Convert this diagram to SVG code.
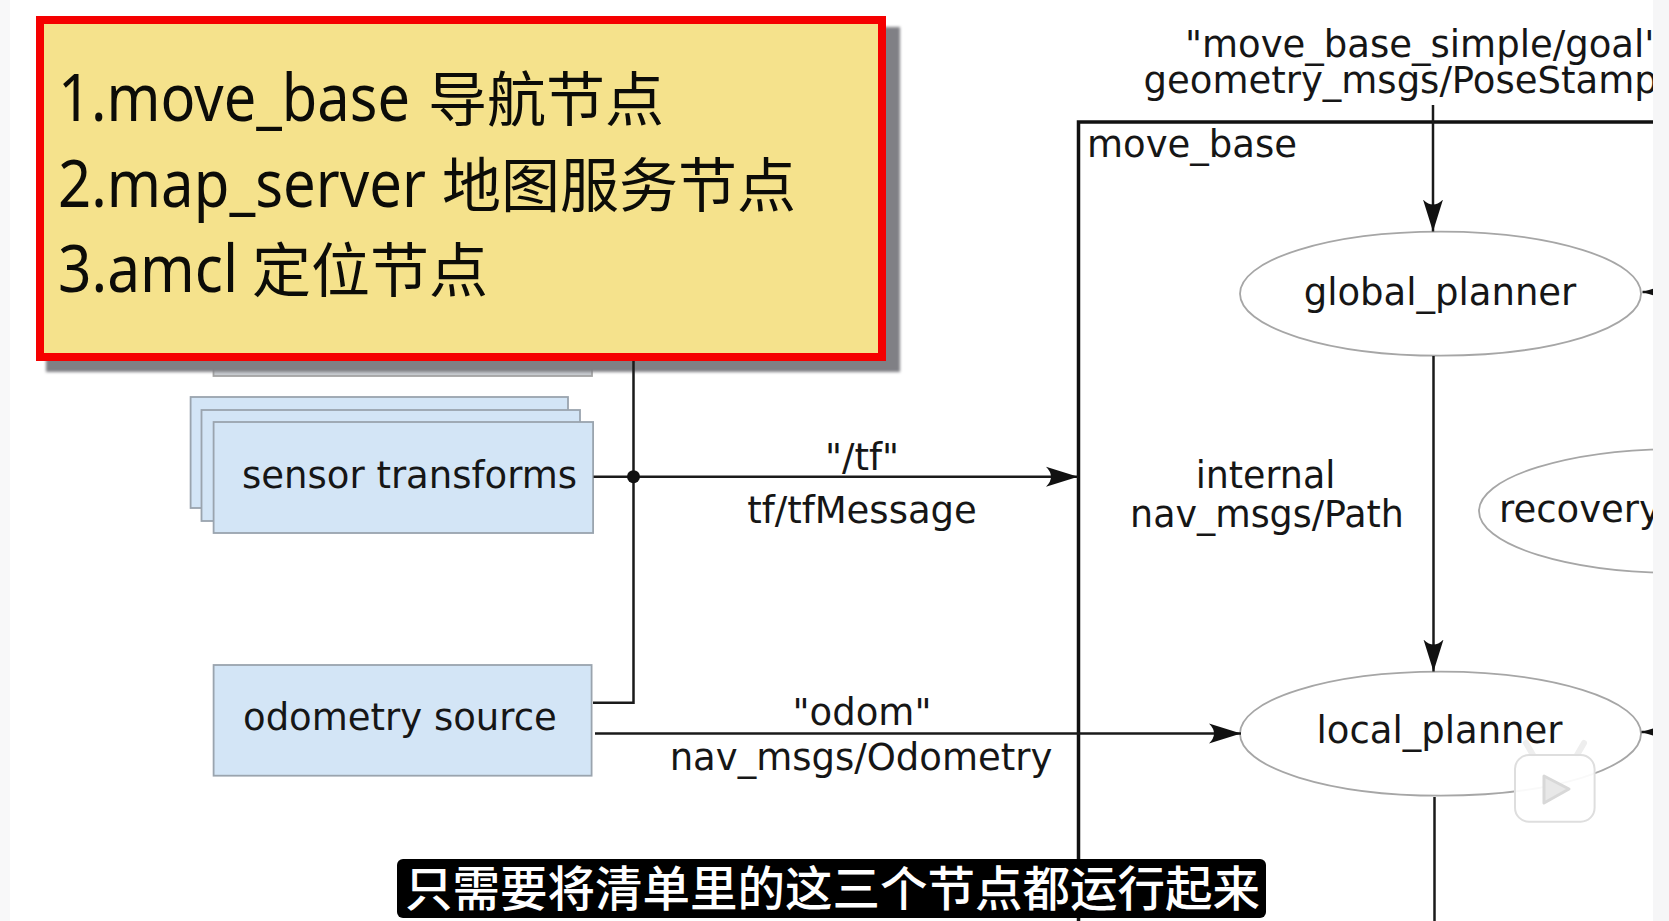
<svg xmlns="http://www.w3.org/2000/svg" width="1669" height="921" viewBox="0 0 1669 921">
<style>
text{font-family:"DejaVu Sans",sans-serif;font-size:37px;fill:#161616}
.m{text-anchor:middle}
.box{fill:#d3e5f6;stroke:#9aa4ae;stroke-width:1.8}
.ell{fill:#fff;stroke:#a6a6a6;stroke-width:1.8}
.ln{fill:none;stroke:#1a1a1a;stroke-width:2.5}
.lat{font-family:"Noto Sans",sans-serif;font-size:66px;fill:#0c0c08}
.cjk{font-family:"Noto Sans CJK SC",sans-serif;font-size:59px;fill:#0c0c08}
.cap{font-family:"Noto Sans CJK SC",sans-serif;font-size:47.5px;font-weight:500;fill:#fff}
</style>
<defs>
<marker id="arr" markerUnits="userSpaceOnUse" markerWidth="34" markerHeight="24" refX="32" refY="12" orient="auto">
<path d="M0 2 L32 12 L0 22 Q10 12 0 2Z" fill="#111"/>
</marker>
<filter id="sh" x="-5%" y="-5%" width="110%" height="110%"><feGaussianBlur stdDeviation="1.5"/></filter>
</defs>
<rect width="1669" height="921" fill="#fff"/>

<g id="move_base">
<rect x="1078.5" y="122" width="640" height="860" fill="none" stroke="#111" stroke-width="3.5"/>
<text x="1087" y="157">move_base</text>
</g>
<g id="global_planner">
<ellipse class="ell" cx="1440.5" cy="293.7" rx="200.5" ry="62"/>
<text x="1440" y="305" class="m">global_planner</text>
</g>
<g id="recovery">
<ellipse class="ell" cx="1680" cy="511" rx="201" ry="62"/>
<text x="1499" y="522">recovery</text>
</g>
<g id="local_planner">
<ellipse class="ell" cx="1440.5" cy="733.7" rx="200.5" ry="62"/>
<text x="1439.5" y="742.5" class="m">local_planner</text>
</g>
<g id="hidden_box">
<rect x="213.5" y="300" width="378.5" height="76" fill="#c9cdd1" stroke="#a3a3a3" stroke-width="1.8"/>
<rect x="46" y="27" width="854" height="345" fill="#808085" filter="url(#sh)"/>
</g>
<g id="sensor_transforms">
<rect class="box" x="190.6" y="397" width="377.4" height="111"/>
<rect class="box" x="201.5" y="410" width="378.5" height="111"/>
<rect class="box" x="213.6" y="422" width="379.5" height="111"/>
<text x="242" y="488">sensor transforms</text>
</g>
<g id="odometry_source">
<rect class="box" x="213.6" y="665" width="378" height="110.7"/>
<text x="243" y="730">odometry source</text>
</g>

<g id="connectors">
<path class="ln" d="M593 702.7H633.5V340"/>
<path class="ln" d="M593.6 476.7H1078" marker-end="url(#arr)"/>
<circle cx="633.5" cy="476.7" r="6.5" fill="#111"/>
<path class="ln" d="M595 733.5H1241" marker-end="url(#arr)"/>
<path class="ln" d="M1433 105V231.5" marker-end="url(#arr)"/>
<path class="ln" d="M1433.5 356V671.5" marker-end="url(#arr)"/>
<path class="ln" d="M1434.5 797V921"/>
<path class="ln" d="M1680 292H1642.5" marker-end="url(#arr)"/>
<path class="ln" d="M1680 732H1641.5" marker-end="url(#arr)"/>
</g>

<g id="labels">
<text x="1185" y="56.5">"move_base_simple/goal"</text>
<text x="1143.5" y="93">geometry_msgs/PoseStamp</text>
<text x="1265.5" y="487.5" class="m" style="font-size:36.4px">internal</text>
<text x="1267" y="527" class="m" style="font-size:36.4px">nav_msgs/Path</text>
<text x="862" y="470" class="m">"/tf"</text>
<text x="862" y="523" class="m">tf/tfMessage</text>
<text x="862" y="725" class="m">"odom"</text>
<text x="861" y="770" class="m">nav_msgs/Odometry</text>
</g>

<g id="edges">
<rect x="1653" y="0" width="16" height="921" fill="#f6f6f7"/>
<rect x="0" y="0" width="10" height="921" fill="#f8f8f9"/>
</g>

<g id="card">
<rect x="40" y="20" width="842" height="337" fill="#f5e28c" stroke="#f50000" stroke-width="8"/>
<text class="lat" x="58" y="121" textLength="352" lengthAdjust="spacingAndGlyphs">1.move_base</text>
<text class="cjk" x="428" y="121">导航节点</text>
<text class="lat" x="58" y="207" textLength="368" lengthAdjust="spacingAndGlyphs">2.map_server</text>
<text class="cjk" x="442" y="207">地图服务节点</text>
<text class="lat" x="58" y="292" textLength="180" lengthAdjust="spacingAndGlyphs">3.amcl</text>
<text class="cjk" x="252" y="292">定位节点</text>
</g>

<g id="watermark">
<path d="M1533 755L1526 743M1577 755L1584 743" stroke="#eeeeee" stroke-width="6" stroke-linecap="round"/>
<rect x="1515" y="755" width="79.6" height="66.7" rx="14" fill="#fff" fill-opacity=".93" stroke="#dedede" stroke-width="2"/>
<path d="M1544 776L1569 789L1544 803Z" fill="#e8e8e8" stroke="#d8d8d8" stroke-width="3" stroke-linejoin="round"/>
</g>

<g id="caption">
<rect x="397" y="859" width="869" height="59" rx="6" fill="#000"/>
<text class="cap" x="405" y="906">只需要将清单里的这三个节点都运行起来</text>
</g>
</svg>
